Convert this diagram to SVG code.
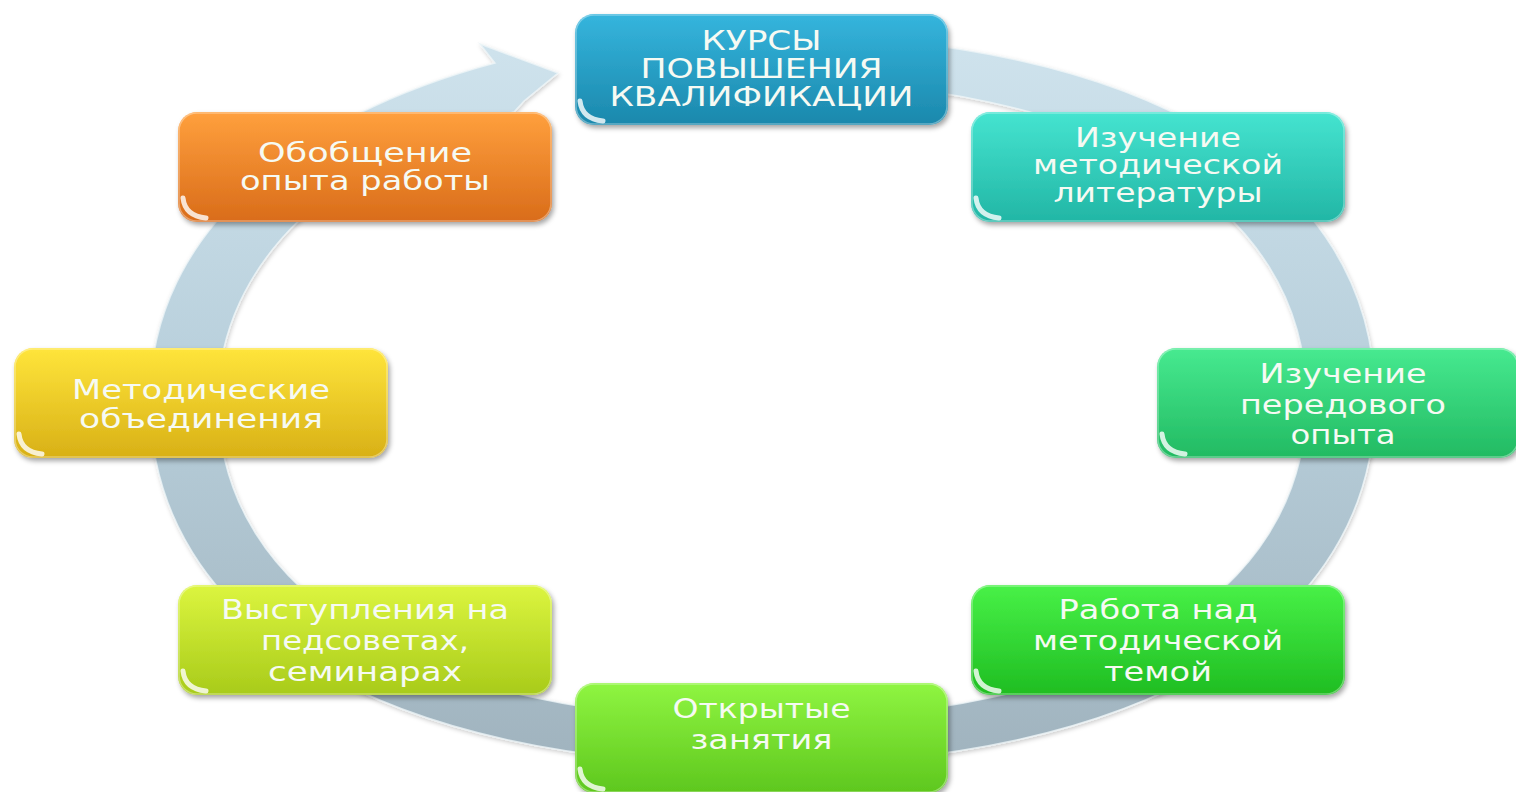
<svg xmlns="http://www.w3.org/2000/svg" width="1516" height="792" viewBox="0 0 1516 792">
<defs>
<linearGradient id="ringG" gradientUnits="userSpaceOnUse" x1="0" y1="35" x2="0" y2="765">
<stop offset="0" stop-color="#cfe3ed"/><stop offset="0.45" stop-color="#b9d0dc"/><stop offset="1" stop-color="#a0b3be"/>
</linearGradient>
<linearGradient id="g1" x1="0" y1="0" x2="0" y2="1"><stop offset="0" stop-color="#35b5dd"/><stop offset="1" stop-color="#1b88ac"/></linearGradient>
<linearGradient id="g2" x1="0" y1="0" x2="0" y2="1"><stop offset="0" stop-color="#45e4d0"/><stop offset="1" stop-color="#22b6a5"/></linearGradient>
<linearGradient id="g3" x1="0" y1="0" x2="0" y2="1"><stop offset="0" stop-color="#47ea90"/><stop offset="1" stop-color="#22ba62"/></linearGradient>
<linearGradient id="g4" x1="0" y1="0" x2="0" y2="1"><stop offset="0" stop-color="#48f147"/><stop offset="1" stop-color="#1fbd22"/></linearGradient>
<linearGradient id="g5" x1="0" y1="0" x2="0" y2="1"><stop offset="0" stop-color="#8ff541"/><stop offset="1" stop-color="#5ec71e"/></linearGradient>
<linearGradient id="g6" x1="0" y1="0" x2="0" y2="1"><stop offset="0" stop-color="#dcf53f"/><stop offset="1" stop-color="#a8cb1a"/></linearGradient>
<linearGradient id="g7" x1="0" y1="0" x2="0" y2="1"><stop offset="0" stop-color="#ffe53b"/><stop offset="1" stop-color="#d8b016"/></linearGradient>
<linearGradient id="g8" x1="0" y1="0" x2="0" y2="1"><stop offset="0" stop-color="#ffa03d"/><stop offset="1" stop-color="#d96c1a"/></linearGradient>
<filter id="sh" x="-10%" y="-20%" width="120%" height="150%">
<feDropShadow dx="2" dy="3" stdDeviation="2.5" flood-color="#000" flood-opacity="0.35"/>
</filter>
<filter id="rsh" x="-5%" y="-5%" width="110%" height="110%">
<feDropShadow dx="1" dy="2" stdDeviation="2" flood-color="#000" flood-opacity="0.2"/>
</filter>
<style>
.box{filter:url(#sh);}
.rim{fill:none;stroke:#ffffff;stroke-opacity:0.35;stroke-width:1.5;}
.hl{fill:none;stroke:#ffffff;stroke-opacity:0.8;stroke-width:5;stroke-linecap:round;}
.t{font-family:"DejaVu Sans","Noto Sans",sans-serif;font-size:26px;fill:#f6faf3;text-anchor:middle;}
.ring{fill:url(#ringG);stroke:#eef5f8;stroke-width:1.5;stroke-opacity:0.8;filter:url(#rsh);}
</style>
</defs>
<rect width="1516" height="792" fill="#ffffff"/>
<g id="connectors">
<path class="ring" d="M 762.5 35 C 1141 35 1375 174 1375 400 C 1375 626 1141 765 762.5 765 C 384 765 150 626 150 400 C 150 230 300 115 495 63 L 480 44 L 558 73 L 524 101 L 514 112 C 340 150 218 262 218 400 C 218 598 425 720 762.5 720 C 1100 720 1306.5 598 1306.5 400 C 1306.5 202 1100 80 762.5 80 Z"/>
</g>
<g id="node1">
<rect class="box" x="575" y="14" width="373" height="111" rx="19" fill="url(#g1)"/>
<rect class="rim" x="576" y="15" width="371" height="109" rx="18"/>
<path class="hl" d="M 580 101 Q 582 119 603 121"/>
<text class="t" x="761.5" y="50" textLength="120" lengthAdjust="spacingAndGlyphs">КУРСЫ</text>
<text class="t" x="761.5" y="78" textLength="242" lengthAdjust="spacingAndGlyphs">ПОВЫШЕНИЯ</text>
<text class="t" x="761.5" y="106" textLength="304" lengthAdjust="spacingAndGlyphs">КВАЛИФИКАЦИИ</text>
</g>
<g id="node2">
<rect class="box" x="971" y="112" width="374" height="110" rx="19" fill="url(#g2)"/>
<rect class="rim" x="972" y="113" width="372" height="108" rx="18"/>
<path class="hl" d="M 976 198 Q 978 216 999 218"/>
<text class="t" x="1158" y="147" textLength="166" lengthAdjust="spacingAndGlyphs">Изучение</text>
<text class="t" x="1158" y="174" textLength="250" lengthAdjust="spacingAndGlyphs">методической</text>
<text class="t" x="1158" y="202" textLength="209" lengthAdjust="spacingAndGlyphs">литературы</text>
</g>
<g id="node3">
<rect class="box" x="1157" y="348" width="362" height="110" rx="19" fill="url(#g3)"/>
<rect class="rim" x="1158" y="349" width="360" height="108" rx="18"/>
<path class="hl" d="M 1162 434 Q 1164 452 1185 454"/>
<text class="t" x="1343" y="383" textLength="167" lengthAdjust="spacingAndGlyphs">Изучение</text>
<text class="t" x="1343" y="414" textLength="206" lengthAdjust="spacingAndGlyphs">передового</text>
<text class="t" x="1343" y="444" textLength="105" lengthAdjust="spacingAndGlyphs">опыта</text>
</g>
<g id="node4">
<rect class="box" x="971" y="585" width="374" height="110" rx="19" fill="url(#g4)"/>
<rect class="rim" x="972" y="586" width="372" height="108" rx="18"/>
<path class="hl" d="M 976 671 Q 978 689 999 691"/>
<text class="t" x="1158" y="619" textLength="199" lengthAdjust="spacingAndGlyphs">Работа над</text>
<text class="t" x="1158" y="650" textLength="250" lengthAdjust="spacingAndGlyphs">методической</text>
<text class="t" x="1158" y="681" textLength="108" lengthAdjust="spacingAndGlyphs">темой</text>
</g>
<g id="node5">
<rect class="box" x="575" y="683" width="373" height="110" rx="19" fill="url(#g5)"/>
<rect class="rim" x="576" y="684" width="371" height="108" rx="18"/>
<path class="hl" d="M 580 769 Q 582 787 603 789"/>
<text class="t" x="761.5" y="718" textLength="178" lengthAdjust="spacingAndGlyphs">Открытые</text>
<text class="t" x="761.5" y="749" textLength="142" lengthAdjust="spacingAndGlyphs">занятия</text>
</g>
<g id="node6">
<rect class="box" x="178" y="585" width="374" height="110" rx="19" fill="url(#g6)"/>
<rect class="rim" x="179" y="586" width="372" height="108" rx="18"/>
<path class="hl" d="M 183 671 Q 185 689 206 691"/>
<text class="t" x="365" y="619" textLength="288" lengthAdjust="spacingAndGlyphs">Выступления на</text>
<text class="t" x="365" y="650" textLength="208" lengthAdjust="spacingAndGlyphs">педсоветах,</text>
<text class="t" x="365" y="681" textLength="194" lengthAdjust="spacingAndGlyphs">семинарах</text>
</g>
<g id="node7">
<rect class="box" x="14" y="348" width="374" height="110" rx="19" fill="url(#g7)"/>
<rect class="rim" x="15" y="349" width="372" height="108" rx="18"/>
<path class="hl" d="M 19 434 Q 21 452 42 454"/>
<text class="t" x="201" y="399" textLength="258" lengthAdjust="spacingAndGlyphs">Методические</text>
<text class="t" x="201" y="428" textLength="244" lengthAdjust="spacingAndGlyphs">объединения</text>
</g>
<g id="node8">
<rect class="box" x="178" y="112" width="374" height="110" rx="19" fill="url(#g8)"/>
<rect class="rim" x="179" y="113" width="372" height="108" rx="18"/>
<path class="hl" d="M 183 198 Q 185 216 206 218"/>
<text class="t" x="365" y="162" textLength="214" lengthAdjust="spacingAndGlyphs">Обобщение</text>
<text class="t" x="365" y="190" textLength="250" lengthAdjust="spacingAndGlyphs">опыта работы</text>
</g>
</svg>
